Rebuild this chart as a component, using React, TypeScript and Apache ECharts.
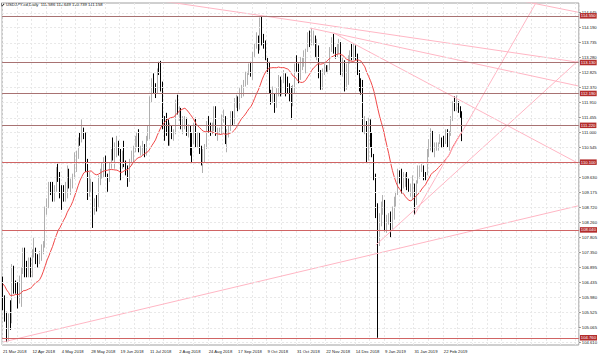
import React, { useEffect, useRef } from 'react';
import * as echarts from 'echarts';

const TITLE = 'USDJPY-cd,Daily  111.586 111.649 110.739 111.158';
const FONT = '"Liberation Sans", Arial, sans-serif';

// closes of the 19 sessions before the first bar (for the 20-period moving average)
const priorCloses = [106.8, 106.9, 106.9, 107.3, 106.7, 106.2, 105.7, 106.2, 106.1, 106.05, 106.2, 106.8, 106.4, 106.6, 106.3, 106.3, 105.95, 106.1, 106.5];

// daily bars [open, high, low, close]
const bars2018Mar = [
  [106.50, 106.62, 105.60, 105.98], [105.98, 106.05, 105.25, 105.30], [105.30, 105.55, 104.63, 104.72],
  [104.72, 105.50, 104.65, 105.40], [105.40, 105.90, 105.00, 105.35], [105.35, 107.00, 105.20, 106.85],
  [106.85, 106.95, 106.10, 106.30], [106.30, 106.50, 106.10, 106.25],
];
const bars2018Apr = [
  [106.25, 106.45, 105.65, 105.90], [105.90, 106.65, 105.80, 106.60], [106.60, 106.90, 105.70, 106.80],
  [106.80, 107.50, 106.70, 107.40], [107.40, 107.50, 106.60, 106.90], [106.90, 107.10, 106.60, 106.80],
  [106.80, 107.20, 106.60, 107.15], [107.15, 107.20, 106.60, 106.80], [106.80, 107.45, 106.60, 107.35],
  [107.35, 107.80, 107.20, 107.40], [107.40, 107.50, 107.00, 107.10], [107.10, 107.30, 106.90, 107.05],
  [107.05, 107.40, 107.00, 107.25], [107.25, 107.60, 107.10, 107.40], [107.40, 107.70, 107.30, 107.65],
  [107.65, 108.75, 107.50, 108.70], [108.70, 109.00, 108.50, 108.80], [108.80, 109.50, 108.70, 109.40],
  [109.40, 109.50, 109.10, 109.30], [109.30, 109.50, 108.90, 109.05], [109.05, 109.40, 108.90, 109.30],
];
const bars2018May = [
  [109.30, 109.95, 109.20, 109.85], [109.85, 110.05, 109.50, 109.80], [109.80, 109.80, 109.00, 109.20],
  [109.20, 109.40, 108.65, 109.10], [109.10, 109.40, 108.90, 109.05], [109.05, 109.50, 108.90, 109.10],
  [109.10, 110.00, 109.00, 109.70], [109.70, 109.90, 109.30, 109.40], [109.40, 109.60, 109.10, 109.40],
  [109.40, 109.75, 109.30, 109.65], [109.65, 110.40, 109.60, 110.35], [110.35, 110.45, 109.80, 110.35],
  [110.35, 110.85, 110.20, 110.80], [110.80, 111.00, 110.60, 110.75], [110.75, 111.40, 110.70, 111.05],
  [111.05, 111.15, 110.80, 110.90], [110.90, 111.00, 109.80, 110.10], [110.10, 110.20, 108.95, 109.25],
  [109.25, 109.80, 109.05, 109.45], [109.45, 109.60, 109.20, 109.45], [109.45, 109.50, 108.10, 108.80],
  [108.80, 109.00, 108.50, 108.85], [108.85, 109.10, 108.60, 108.80],
];
const bars2018Jun = [
  [108.80, 109.70, 108.70, 109.50], [109.50, 109.90, 109.40, 109.80], [109.80, 110.10, 109.60, 109.80],
  [109.80, 110.25, 109.65, 110.20], [110.20, 110.30, 109.65, 109.70], [109.70, 109.75, 109.20, 109.55],
  [109.55, 110.10, 109.50, 110.05], [110.05, 110.50, 109.90, 110.35], [110.35, 110.85, 110.15, 110.30],
  [110.30, 110.70, 109.90, 110.60], [110.60, 110.90, 110.25, 110.65], [110.65, 110.75, 110.30, 110.50],
  [110.50, 110.50, 109.55, 110.05], [110.05, 110.45, 109.90, 110.35], [110.35, 110.75, 109.95, 110.00],
  [110.00, 110.15, 109.70, 109.95], [109.95, 110.00, 109.35, 109.70], [109.70, 110.20, 109.50, 110.10],
  [110.10, 110.45, 110.00, 110.25], [110.25, 110.60, 110.10, 110.50], [110.50, 110.90, 110.40, 110.70],
];
const bars2018Jul = [
  [110.70, 111.00, 110.55, 110.90], [110.90, 111.10, 110.40, 110.50], [110.50, 110.60, 110.30, 110.50],
  [110.50, 110.75, 110.30, 110.60], [110.60, 110.65, 110.25, 110.45], [110.45, 110.90, 110.30, 110.85],
  [110.85, 111.20, 110.75, 111.00], [111.00, 112.10, 110.80, 111.95], [111.95, 112.65, 111.90, 112.50],
  [112.50, 112.80, 112.20, 112.35], [112.35, 112.50, 112.05, 112.30], [112.30, 112.95, 112.20, 112.90],
  [112.90, 113.15, 112.75, 112.85], [112.85, 113.18, 112.25, 112.45], [112.45, 112.55, 111.10, 111.40],
  [111.40, 111.50, 110.75, 111.30], [111.30, 111.60, 110.90, 111.20], [111.20, 111.40, 110.60, 111.00],
  [111.00, 111.30, 110.60, 111.20], [111.20, 111.20, 110.80, 111.05], [111.05, 111.10, 110.75, 111.05],
  [111.05, 112.00, 110.95, 111.85],
];
const bars2018Aug = [
  [111.85, 112.15, 111.55, 111.70], [111.70, 111.80, 111.35, 111.70], [111.70, 111.75, 111.10, 111.25],
  [111.25, 111.50, 110.95, 111.40], [111.40, 111.50, 111.10, 111.40], [111.40, 111.45, 110.90, 111.00],
  [111.00, 111.25, 110.85, 111.10], [111.10, 111.20, 110.30, 110.90], [110.90, 111.00, 110.10, 110.70],
  [110.70, 111.30, 110.65, 111.20], [111.20, 111.45, 110.55, 110.70], [110.70, 111.00, 110.55, 110.90],
  [110.90, 111.00, 110.35, 110.50], [110.50, 110.60, 110.00, 110.05], [110.05, 110.50, 109.77, 110.25],
  [110.25, 110.65, 110.10, 110.55], [110.55, 111.35, 110.50, 111.30], [111.30, 111.50, 111.00, 111.20],
  [111.20, 111.30, 110.90, 111.10], [111.10, 111.30, 110.95, 111.20], [111.20, 111.80, 111.05, 111.70],
  [111.70, 111.80, 110.90, 111.00], [111.00, 111.15, 110.75, 111.05],
];
const bars2018Sep = [
  [111.05, 111.15, 110.95, 111.05], [111.05, 111.55, 110.95, 111.45], [111.45, 111.70, 111.30, 111.45],
  [111.45, 111.50, 110.65, 110.70], [110.70, 111.10, 110.40, 110.95], [110.95, 111.20, 110.85, 111.10],
  [111.10, 111.65, 111.05, 111.60], [111.60, 111.65, 111.20, 111.30], [111.30, 112.05, 111.25, 112.00],
  [112.00, 112.15, 111.75, 112.05], [112.05, 112.10, 111.65, 111.85], [111.85, 112.35, 111.70, 112.30],
  [112.30, 112.45, 112.05, 112.30], [112.30, 112.60, 112.10, 112.50], [112.50, 112.85, 112.40, 112.60],
  [112.60, 112.85, 112.45, 112.80], [112.80, 113.10, 112.75, 112.95], [112.95, 113.15, 112.70, 112.75],
  [112.75, 113.45, 112.60, 113.40], [113.40, 113.70, 113.30, 113.65],
];
const bars2018Oct = [
  [113.65, 114.05, 113.55, 113.95], [113.95, 113.95, 113.40, 113.60], [113.60, 114.50, 113.50, 114.45],
  [114.45, 114.55, 113.65, 113.90], [113.90, 114.00, 113.55, 113.70], [113.70, 113.80, 113.20, 113.25],
  [113.25, 113.30, 112.80, 113.00], [113.00, 113.15, 112.20, 112.25], [112.25, 112.30, 111.85, 112.10],
  [112.10, 112.40, 111.90, 112.20], [112.20, 112.20, 111.60, 111.80], [111.80, 112.35, 111.75, 112.30],
  [112.30, 112.75, 112.10, 112.70], [112.70, 112.70, 112.10, 112.20], [112.20, 112.60, 112.15, 112.55],
  [112.55, 112.90, 112.50, 112.80], [112.80, 112.80, 112.10, 112.45], [112.45, 112.70, 112.20, 112.40],
  [112.40, 112.50, 111.95, 112.35], [112.35, 112.40, 111.40, 111.90], [111.90, 112.45, 111.80, 112.40],
  [112.40, 113.10, 112.20, 113.05], [113.05, 113.35, 112.85, 112.95],
];
const bars2018Nov = [
  [112.95, 113.10, 112.50, 112.70], [112.70, 113.30, 112.60, 113.20], [113.20, 113.30, 112.90, 113.20],
  [113.20, 113.50, 113.00, 113.45], [113.45, 113.55, 112.80, 113.50], [113.50, 114.05, 113.45, 114.00],
  [114.00, 114.10, 113.60, 113.80], [113.80, 114.20, 113.65, 113.80], [113.80, 114.10, 113.65, 113.85],
  [113.85, 113.95, 113.30, 113.60], [113.60, 113.85, 113.20, 113.60], [113.60, 113.65, 112.65, 112.80],
  [112.80, 112.90, 112.30, 112.55], [112.55, 112.95, 112.30, 112.80], [112.80, 113.10, 112.75, 113.00],
  [113.00, 113.05, 112.85, 112.95], [112.95, 113.05, 112.80, 112.95], [112.95, 113.60, 112.90, 113.55],
  [113.55, 113.90, 113.45, 113.80], [113.80, 114.00, 113.40, 113.50], [113.50, 113.60, 113.25, 113.40],
  [113.40, 113.70, 113.30, 113.50],
];
const bars2018Dec = [
  [113.50, 113.85, 113.40, 113.60], [113.60, 113.75, 112.75, 112.80], [112.80, 113.30, 112.70, 113.20],
  [113.20, 113.20, 112.25, 112.70], [112.70, 113.10, 112.30, 112.70], [112.70, 113.35, 112.45, 113.30],
  [113.30, 113.50, 113.10, 113.35], [113.35, 113.70, 113.20, 113.30], [113.30, 113.70, 113.20, 113.60],
  [113.60, 113.65, 113.20, 113.40], [113.40, 113.40, 112.75, 112.85], [112.85, 112.90, 112.25, 112.50],
  [112.50, 112.65, 112.15, 112.40], [112.40, 112.60, 111.00, 111.20], [111.20, 111.50, 110.95, 111.30],
  [111.30, 111.35, 110.10, 110.30], [110.30, 111.45, 110.15, 111.35], [111.35, 111.40, 110.55, 110.95],
  [110.95, 111.00, 110.25, 110.30], [110.30, 110.35, 109.55, 109.70],
];
const bars2019Jan = [
  [109.70, 109.75, 108.40, 108.65], [108.65, 108.85, 104.76, 107.65], [107.65, 108.55, 107.55, 108.50],
  [108.50, 108.90, 108.15, 108.70], [108.70, 109.10, 108.50, 108.75], [108.75, 108.95, 108.00, 108.15],
  [108.15, 108.50, 107.95, 108.40], [108.40, 108.55, 108.20, 108.50], [108.50, 108.60, 107.80, 108.15],
  [108.15, 108.75, 108.05, 108.65], [108.65, 109.05, 108.35, 108.90], [108.90, 109.20, 108.75, 109.15],
  [109.15, 109.90, 109.10, 109.80], [109.80, 109.85, 109.45, 109.65], [109.65, 109.90, 109.15, 109.40],
  [109.40, 109.80, 109.30, 109.60], [109.60, 109.75, 109.35, 109.60], [109.60, 109.80, 109.25, 109.55],
  [109.55, 109.60, 109.20, 109.35], [109.35, 109.45, 109.05, 109.40], [109.40, 109.70, 108.95, 109.40],
  [109.40, 109.45, 108.50, 108.85],
];
const bars2019Feb = [
  [108.85, 109.55, 108.80, 109.50], [109.50, 110.00, 109.45, 109.90], [109.90, 110.00, 109.60, 109.95],
  [109.95, 110.05, 109.80, 109.95], [109.95, 110.00, 109.55, 109.80], [109.80, 109.80, 109.55, 109.70],
  [109.70, 110.50, 109.70, 110.40], [110.40, 110.80, 110.25, 110.50], [110.50, 111.13, 110.45, 111.00],
  [111.00, 111.05, 110.40, 110.45], [110.45, 110.70, 110.25, 110.50], [110.50, 110.70, 110.45, 110.60],
  [110.60, 110.70, 110.45, 110.65], [110.65, 110.95, 110.65, 110.85], [110.85, 110.85, 110.55, 110.70],
  [110.70, 110.90, 110.55, 110.65], [110.65, 111.10, 110.65, 111.05], [111.05, 111.10, 110.55, 110.60],
  [110.60, 111.05, 110.45, 111.00], [111.00, 111.50, 110.90, 111.40],
];
const bars2019Mar = [
  [111.40, 111.95, 111.35, 111.90], [111.90, 112.10, 111.65, 111.75], [111.75, 112.13, 111.65, 111.90],
  [111.90, 111.95, 111.60, 111.75], [111.75, 111.80, 111.45, 111.60], [111.586, 111.649, 110.739, 111.158],
];

const FIRST_DAY = '2018-03-21';
const closedDays = ['2018-12-25', '2019-01-01'];
const MONTHS = ['Jan', 'Feb', 'Mar', 'Apr', 'May', 'Jun', 'Jul', 'Aug', 'Sep', 'Oct', 'Nov', 'Dec'];
const TOTAL_SLOTS = 314; // bars plus the empty space on the right of the chart

// right-hand price scale labels
const yTicks = [104.61, 105.065, 105.525, 105.98, 106.435, 106.895, 107.35, 107.805, 108.26, 108.72, 109.175, 109.63, 110.085, 110.545, 111.0, 111.455, 111.91, 112.37, 112.825, 113.28, 113.735, 114.19, 114.645];
const Y_MIN = 104.54;
const Y_MAX = 114.94;

// horizontal levels (upper ones drawn darker, lower ones brighter red)
const upperLevels = [114.55, 113.133, 112.194, 111.22];
const lowerLevels = [110.1, 108.039, 104.76];

// trend lines: [[bar index, price], [bar index, price]]
const trendLines = [
  [[83, 115.03], [313, 113.14]],
  [[167, 114.18], [313, 112.42]],
  [[180, 114.03], [313, 110.07]],
  [[0, 104.63], [313, 108.77]],
  [[203, 107.58], [313, 113.18]],
  [[224, 108.5], [291, 115.03]],
  [[280, 115.03], [313, 114.66]],
];

const MA_PERIOD = 20;

function tradingDays(start: string, count: number, skip: string[]) {
  const out: string[] = [];
  const d = new Date(start + 'T00:00:00Z');
  while (out.length < count) {
    const wd = d.getUTCDay();
    const iso = d.toISOString().slice(0, 10);
    if (wd !== 0 && wd !== 6 && !skip.includes(iso)) {
      out.push(`${d.getUTCDate()} ${MONTHS[d.getUTCMonth()]} ${d.getUTCFullYear()}`);
    }
    d.setUTCDate(d.getUTCDate() + 1);
  }
  return out;
}

function levelSeries(values: number[], color: string, z: number) {
  return {
    type: 'line', data: [], silent: true, z, symbol: 'none',
    markLine: {
      silent: true, symbol: ['none', 'none'],
      lineStyle: { color, type: 'solid', width: 1 },
      label: {
        show: true, position: 'end', distance: 1, fontFamily: FONT, fontSize: 4.2, color: '#ffffff',
        backgroundColor: '#b32c2c', padding: [1, 1, 0.5, 1],
        formatter: (p: any) => Number(p.value).toFixed(3),
      },
      data: values.map((v) => ({ yAxis: v })),
    },
  };
}

export default function App() {
  const ref = useRef<HTMLDivElement>(null);
  useEffect(() => {
    if (!ref.current) return;
    const chart = echarts.init(ref.current, undefined, { renderer: 'svg' });
    const bars = [
      ...bars2018Mar, ...bars2018Apr, ...bars2018May, ...bars2018Jun, ...bars2018Jul, ...bars2018Aug,
      ...bars2018Sep, ...bars2018Oct, ...bars2018Nov, ...bars2018Dec, ...bars2019Jan, ...bars2019Feb, ...bars2019Mar,
    ];
    const dates = tradingDays(FIRST_DAY, bars.length, closedDays);
    const categories = [...dates];
    while (categories.length < TOTAL_SLOTS) categories.push('');
    const candle = bars.map((b) => [b[0], b[3], b[2], b[1]]);
    const closes = bars.map((b) => b[3]);
    const all = [...priorCloses, ...closes];
    const ma = closes.map((_, i) => {
      const j = i + priorCloses.length;
      let s = 0;
      for (let k = j - MA_PERIOD + 1; k <= j; k++) s += all[k];
      return +(s / MA_PERIOD).toFixed(4);
    });
    const blank = categories.map(() => null);
    const txt = { fontFamily: FONT, fontSize: 4.2, color: '#1a1a1a' };

    const option: any = {
      animation: false,
      backgroundColor: '#ffffff',
      grid: { left: 1, right: 21, top: 3, bottom: 13, show: true, borderColor: '#a0a0a0', borderWidth: 1 },
      xAxis: {
        type: 'category',
        data: categories,
        boundaryGap: true,
        axisLine: { show: false },
        axisTick: { show: false },
        axisLabel: { ...txt, interval: 15, align: 'left', margin: 4, hideOverlap: false },
        splitLine: { show: true, interval: 7, lineStyle: { color: '#e8e8e8', type: [2, 2], width: 1 } },
      },
      yAxis: {
        type: 'value',
        position: 'right',
        min: Y_MIN,
        max: Y_MAX,
        axisLine: { show: false },
        axisTick: { show: true, customValues: yTicks, length: 2, lineStyle: { color: '#909090' } },
        axisLabel: { ...txt, customValues: yTicks, margin: 3, formatter: (v: number) => v.toFixed(3) },
        splitLine: { show: false },
      },
      graphic: [
        { type: 'polygon', shape: { points: [[1.5, 2.5], [4.5, 4.5], [1.5, 6.5]] }, style: { fill: '#333' } },
        { type: 'text', left: 6, top: 2.5, style: { text: TITLE, font: `4.2px ${FONT}`, fill: '#1a1a1a' } },
      ],
      series: [
        {
          type: 'line', data: blank, silent: true, z: 1, symbol: 'none',
          markLine: {
            silent: true, symbol: ['none', 'none'], label: { show: false },
            lineStyle: { color: '#e8e8e8', type: [2, 2], width: 1 },
            data: yTicks.map((v) => ({ yAxis: v })),
          },
        },
        {
          type: 'candlestick', data: candle, z: 2, barWidth: '62%',
          itemStyle: { color: '#e2e2e2', borderColor: '#b0b0b0', color0: '#000000', borderColor0: '#000000', borderWidth: 1 },
        },
        {
          type: 'line', data: ma, symbol: 'none', z: 3, smooth: false,
          lineStyle: { color: '#f04848', width: 1 },
        },
        ...trendLines.map((t) => ({
          type: 'line', data: t, symbol: 'none', z: 3, clip: true, silent: true,
          lineStyle: { color: '#ffb6c4', width: 1 },
        })),
        levelSeries(upperLevels, '#a87272', 4),
        levelSeries(lowerLevels, '#d06464', 4),
      ],
    };
    chart.setOption(option);
    return () => chart.dispose();
  }, []);
  return <div ref={ref} style={{ position: 'fixed', left: 0, top: 0, width: 600, height: 358 }} />;
}
